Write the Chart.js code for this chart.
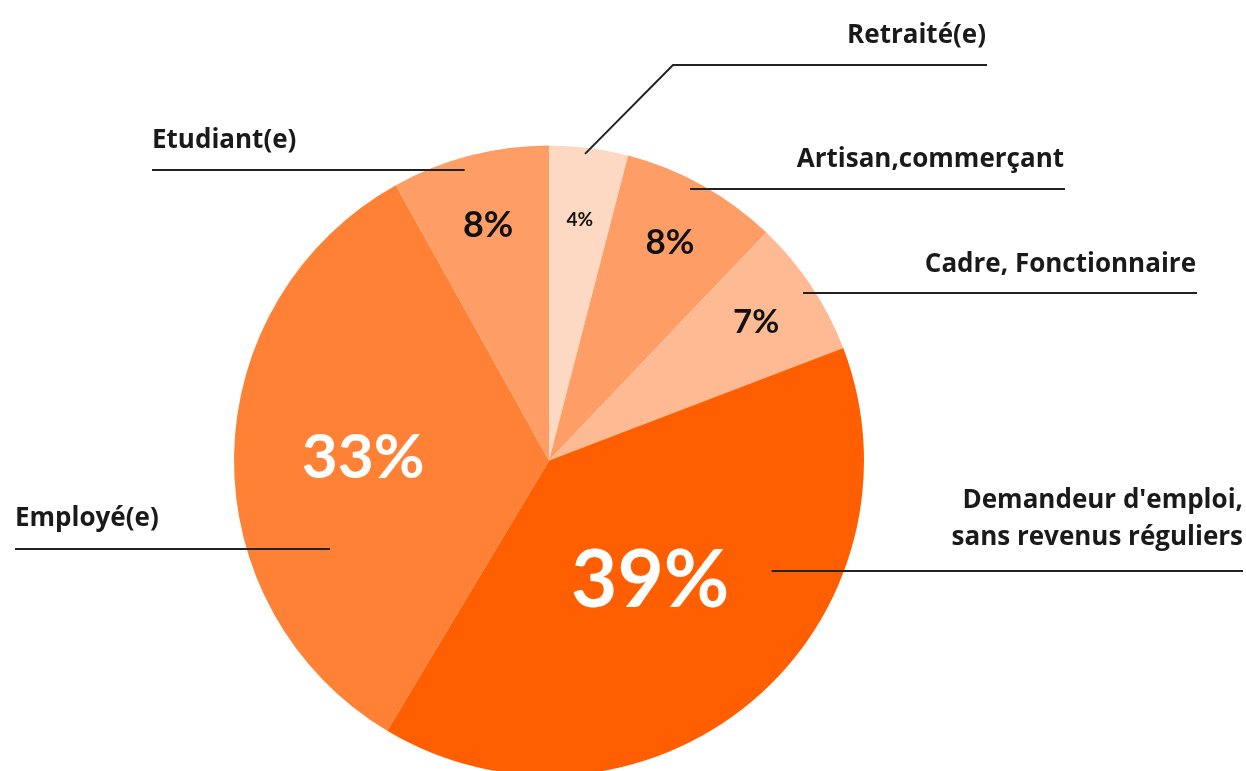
<!DOCTYPE html>
<html>
<head>
<meta charset="utf-8">
<script src="https://cdn.jsdelivr.net/npm/chart.js@4.4.1/dist/chart.umd.min.js"></script>
<style>
    html, body { margin: 0; padding: 0; background: #fff; overflow: hidden; }
    #wrap { position: absolute; left: 0; top: 0; width: 1246px; height: 800px; }
</style>
</head>
<body>
<div id="wrap"><canvas id="pie-chart" width="1246" height="800"></canvas></div>
<script>
let categories = ["Retraité(e)", "Artisan,commerçant", "Cadre, Fonctionnaire", "Demandeur d'emploi,\nsans revenus réguliers", "Employé(e)", "Etudiant(e)"];
let values = [4, 8, 7, 39, 33, 8];
let sliceColors = ["#FDD8C2", "#FE9D65", "#FEBA92", "#FF5F00", "#FE8135", "#FE9D65"];

// percent label inside each slice: radius fraction, font size, colour
const pctStyle = [
    { r: 0.77, size: 19, color: "#111" },
    { r: 0.79, size: 35, color: "#111" },
    { r: 0.79, size: 33, color: "#111" },
    { r: 0.50, size: 80, color: "#fff" },
    { r: 0.59, size: 62, color: "#fff" },
    { r: 0.77, size: 36, color: "#111" },
];

// callouts: line start (angle in deg from top, radius fraction), then path + text
const callouts = [
    { a: 6.7, f: 0.98, path: [[673, 65], [987, 65]], tx: 986, ty: 43, align: "right" },
    { a: 27.5, f: 0.97, path: [[1065, 189]], tx: 1064, ty: 167, align: "right" },
    { a: 56.7, f: 0.965, path: [[1197, 293]], tx: 1196, ty: 272, align: "right" },
    { a: 116.5, f: 0.79, path: [[1243, 571]], tx: 1243, ty: 508, align: "right", lh: 37 },
    { a: 247.9, f: 0.75, path: [[15, 549]], tx: 15, ty: 526, align: "left" },
    { a: 343.8, f: 0.96, path: [[152, 170]], tx: 152, ty: 148, align: "left" },
];

const labelsPlugin = {
    id: "labels",
    afterDatasetsDraw(chart) {
        const ctx = chart.ctx;
        const arcs = chart.getDatasetMeta(0).data;
        arcs.forEach((arc, i) => {
            const { x, y, startAngle, endAngle, outerRadius } = arc.getProps(["x", "y", "startAngle", "endAngle", "outerRadius"], true);
            const mid = (startAngle + endAngle) / 2;
            const st = pctStyle[i];
            ctx.save();
            ctx.font = "bold " + st.size + "px Lato";
            ctx.fillStyle = st.color;
            ctx.textAlign = "center";
            ctx.textBaseline = "middle";
            ctx.fillText(values[i] + "%", x + Math.cos(mid) * outerRadius * st.r, y + Math.sin(mid) * outerRadius * st.r);
            ctx.restore();

            const c = callouts[i];
            const ang = (c.a - 90) * Math.PI / 180;
            ctx.save();
            ctx.strokeStyle = "#222";
            ctx.lineWidth = 2;
            ctx.beginPath();
            ctx.moveTo(x + Math.cos(ang) * outerRadius * c.f, c.path.length > 1 ? y + Math.sin(ang) * outerRadius * c.f : c.path[0][1]);
            c.path.forEach((p) => ctx.lineTo(p[0], p[1]));
            ctx.stroke();
            ctx.font = "bold 26px 'Open Sans'";
            ctx.fillStyle = "#1a1a1a";
            ctx.textAlign = c.align;
            ctx.textBaseline = "alphabetic";
            categories[i].split("\n").forEach((line, k) => {
                ctx.fillText(line, c.tx, c.ty + k * (c.lh || 0));
            });
            ctx.restore();
        });
    },
};

new Chart(document.getElementById("pie-chart"), {
    type: "pie",
    data: {
        labels: categories,
        datasets: [
            {
                data: values,
                backgroundColor: sliceColors,
                borderWidth: 0,
            },
        ],
    },
    options: {
        responsive: false,
        animation: false,
        layout: { padding: { left: 234, right: 382, top: 145, bottom: 24 } },
        plugins: {
            legend: { display: false },
            tooltip: { enabled: false },
        },
    },
    plugins: [labelsPlugin],
});
</script>
</body>
</html>
